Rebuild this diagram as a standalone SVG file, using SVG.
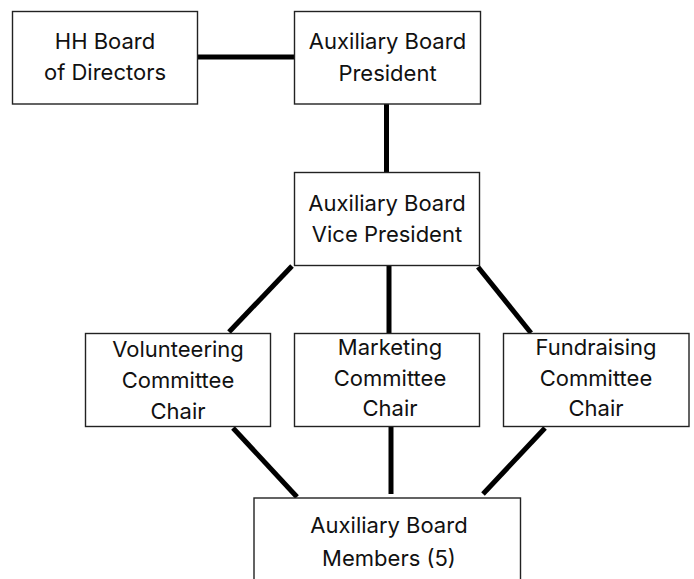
<svg xmlns="http://www.w3.org/2000/svg" width="694" height="579" viewBox="0 0 694 579">
<style>
.box{fill:#fff;stroke:#222;stroke-width:1.4}
.t{font-family:Inter,"Liberation Sans",sans-serif;font-size:22px;fill:#111;text-anchor:middle}
.c{stroke:#000;stroke-width:5;fill:none}
</style>
<rect width="694" height="579" fill="#fff"/>
<g id="connectors">
<line class="c" x1="197" y1="57" x2="295" y2="57"/>
<line class="c" x1="386.5" y1="104" x2="386.5" y2="173"/>
<line class="c" x1="292" y1="266" x2="229" y2="332"/>
<line class="c" x1="389" y1="266" x2="389" y2="334"/>
<line class="c" x1="478" y1="267" x2="531" y2="333"/>
<line class="c" x1="233" y1="428" x2="297" y2="497"/>
<line class="c" x1="391" y1="427" x2="391" y2="494"/>
<line class="c" x1="545" y1="428" x2="483" y2="494"/>
</g>
<g id="hh-board">
<rect class="box" x="12.5" y="11.5" width="185" height="92.5"/>
<text class="t" x="105" y="49">HH Board</text>
<text class="t" x="105" y="80">of Directors</text>
</g>
<g id="president">
<rect class="box" x="294.5" y="11.5" width="186" height="92.5"/>
<text class="t" x="387.5" y="48.5">Auxiliary Board</text>
<text class="t" x="387.5" y="81">President</text>
</g>
<g id="vice-president">
<rect class="box" x="294.5" y="172.5" width="185" height="93"/>
<text class="t" x="387" y="210.5">Auxiliary Board</text>
<text class="t" x="387" y="241.5">Vice President</text>
</g>
<g id="volunteering">
<rect class="box" x="85.5" y="333.5" width="185" height="93"/>
<text class="t" x="178" y="356.5">Volunteering</text>
<text class="t" x="178" y="388">Committee</text>
<text class="t" x="178" y="419">Chair</text>
</g>
<g id="marketing">
<rect class="box" x="294.5" y="333.5" width="185" height="93"/>
<text class="t" x="390" y="355">Marketing</text>
<text class="t" x="390" y="385.5">Committee</text>
<text class="t" x="390" y="415.5">Chair</text>
</g>
<g id="fundraising">
<rect class="box" x="503.5" y="333.5" width="185.5" height="93"/>
<text class="t" x="596" y="355">Fundraising</text>
<text class="t" x="596" y="385.5">Committee</text>
<text class="t" x="596" y="415.5">Chair</text>
</g>
<g id="members">
<rect class="box" x="254" y="498" width="266.5" height="110"/>
<text class="t" x="389" y="532.5">Auxiliary Board</text>
<text class="t" x="389" y="566">Members (5)</text>
</g>
</svg>
